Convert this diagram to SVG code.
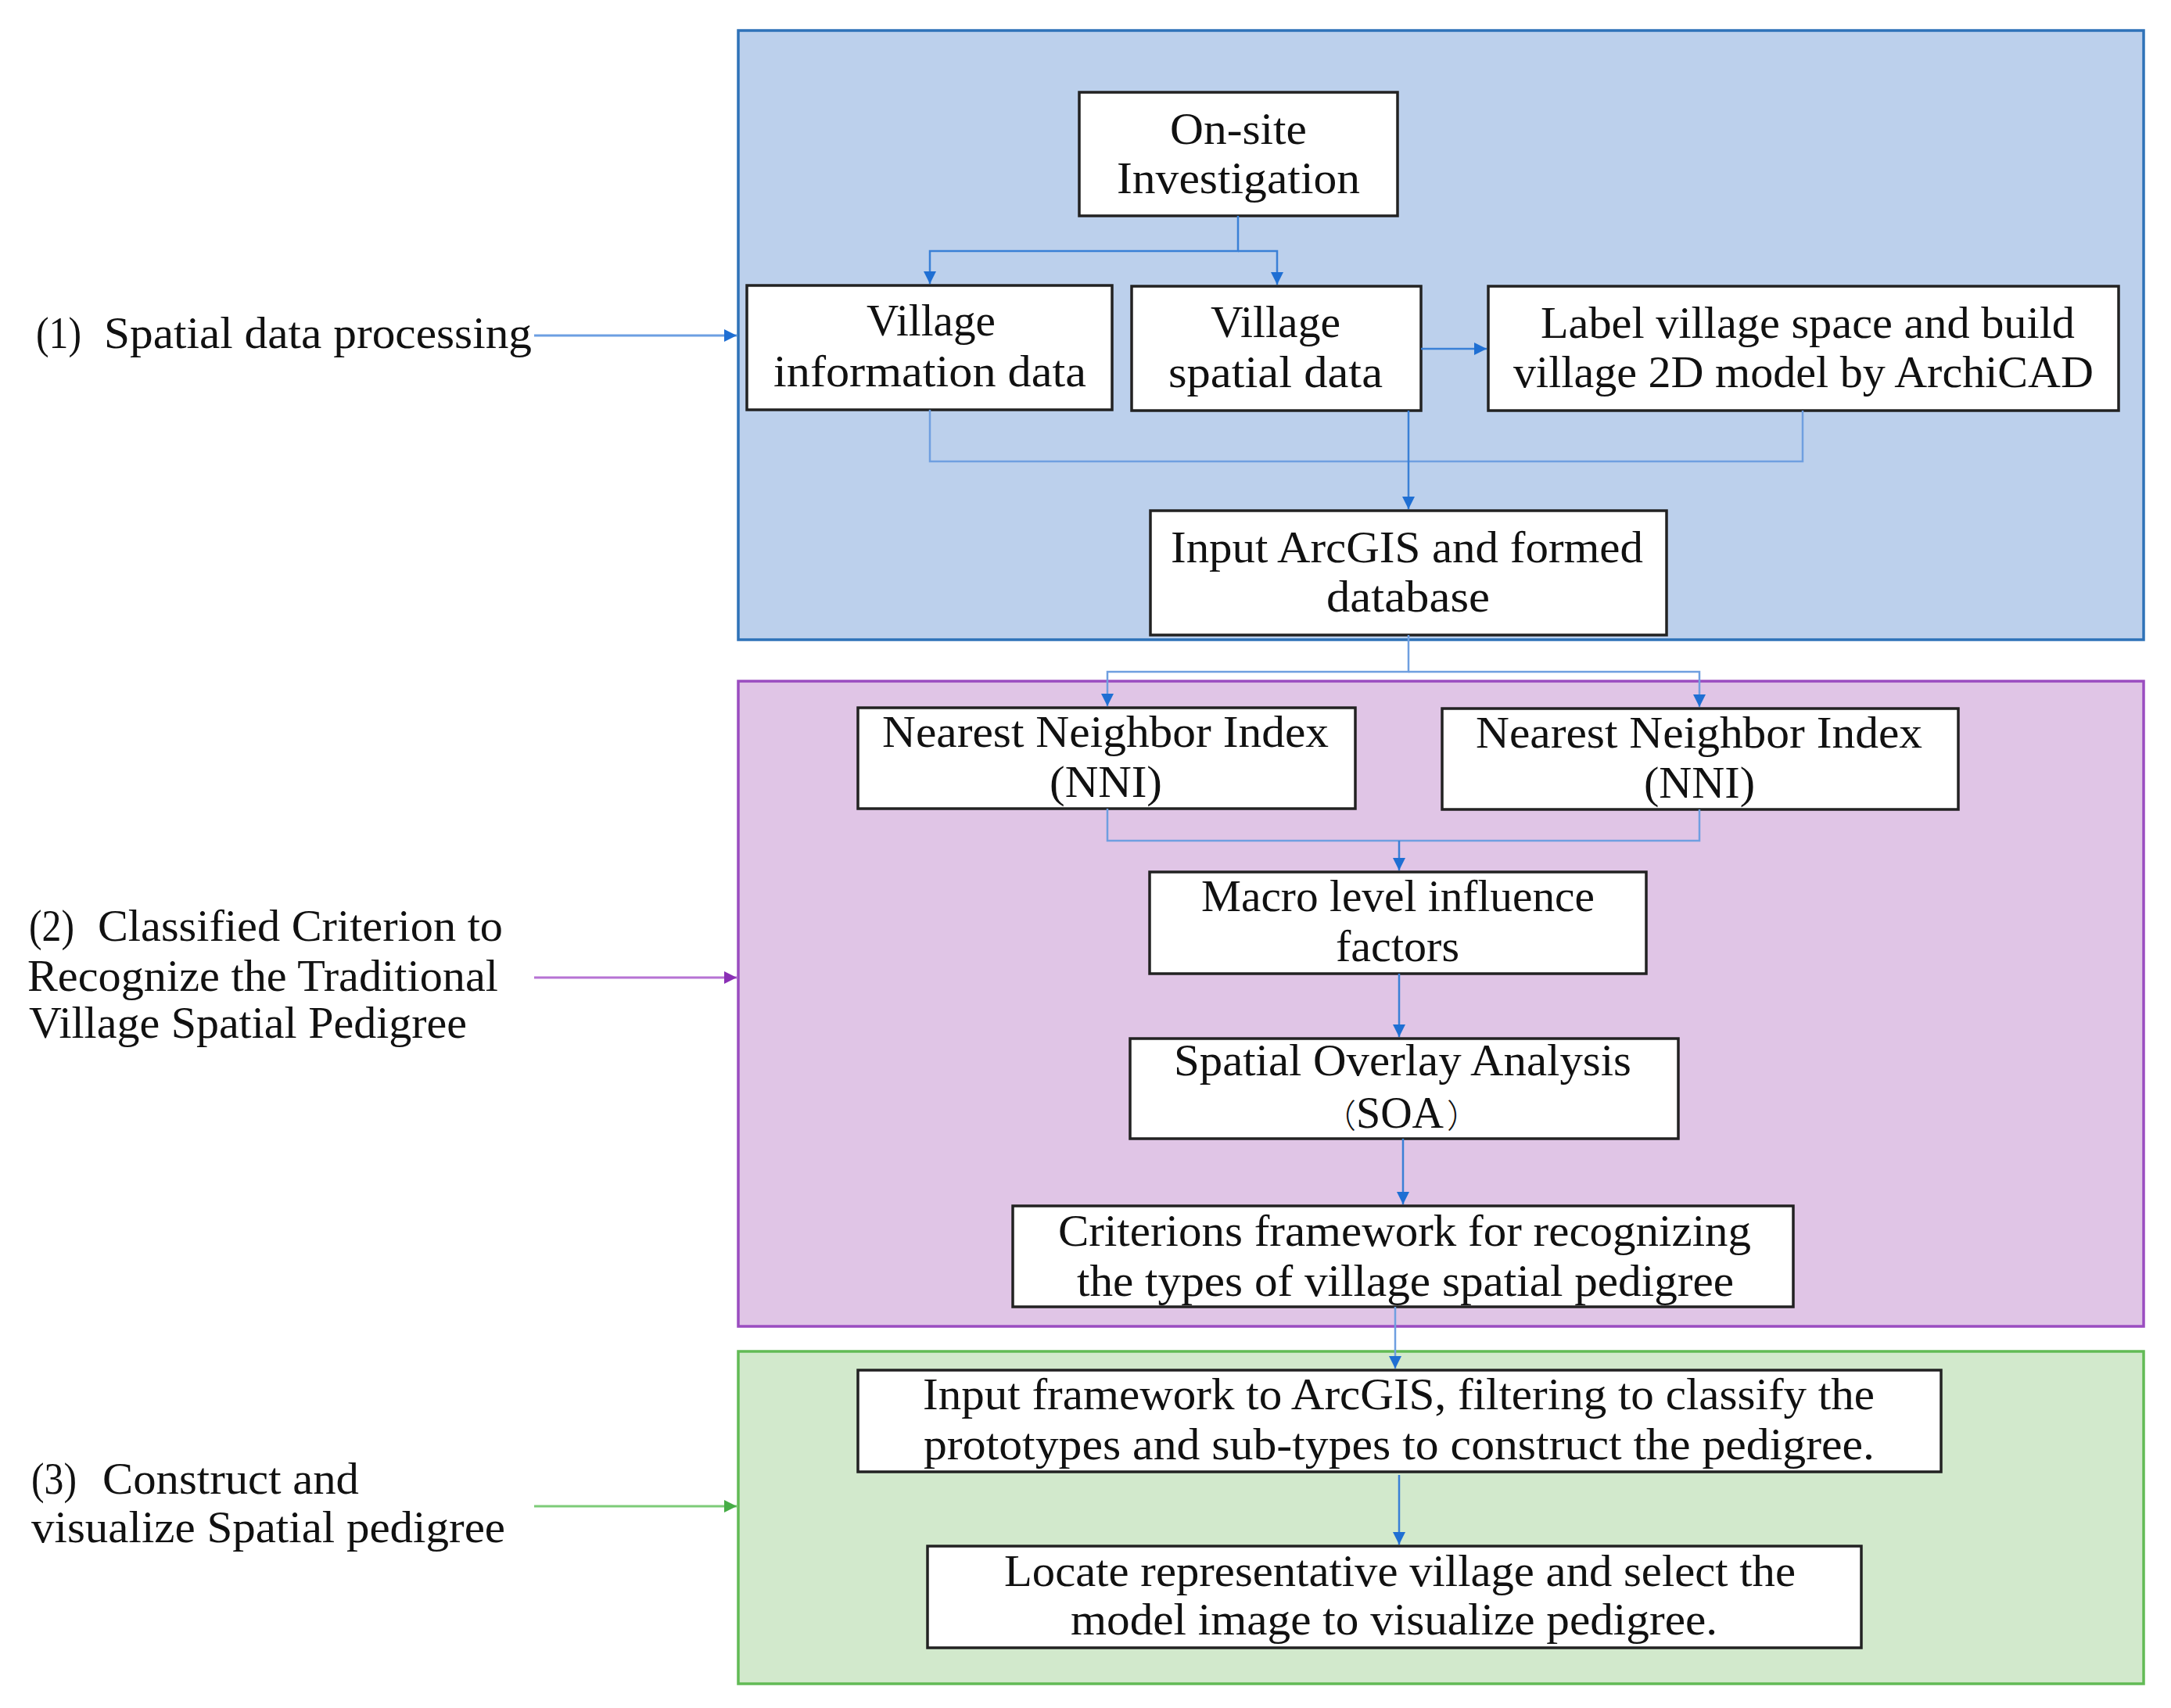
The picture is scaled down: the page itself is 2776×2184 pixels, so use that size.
<svg xmlns="http://www.w3.org/2000/svg" width="2776" height="2184" viewBox="0 0 2776 2184">
<defs>
<style>
.t{font-family:"Liberation Serif","Noto Sans CJK SC",serif;font-size:56px;fill:#111}
.cjk{font-family:"Noto Sans CJK SC","Noto Sans CJK JP",sans-serif;font-size:42px;font-weight:300}
.node{fill:#fff;stroke:#222;stroke-width:3.5}
.c{fill:none;stroke:#3a80d6;stroke-width:2.5}
.cl{fill:none;stroke:#6f9fe0;stroke-width:2.5}
</style>
<marker id="ab" markerUnits="userSpaceOnUse" markerWidth="18" markerHeight="16" refX="16" refY="8" orient="auto"><path d="M0,0 L16,8 L0,16 z" fill="#1f6fd3"/></marker>
<marker id="ap" markerUnits="userSpaceOnUse" markerWidth="18" markerHeight="16" refX="16" refY="8" orient="auto"><path d="M0,0 L16,8 L0,16 z" fill="#8a2fb5"/></marker>
<marker id="ag" markerUnits="userSpaceOnUse" markerWidth="18" markerHeight="16" refX="16" refY="8" orient="auto"><path d="M0,0 L16,8 L0,16 z" fill="#46ad46"/></marker>
</defs>
<rect width="2776" height="2184" fill="#fff"/>

<g id="panel1"><rect x="944" y="39" width="1797" height="779" fill="#bcd0ec" stroke="#2e72b8" stroke-width="3.5"/></g>
<g id="panel2"><rect x="944" y="871" width="1797" height="825" fill="#e0c5e6" stroke="#9a4cc0" stroke-width="3.5"/></g>
<g id="panel3"><rect x="944" y="1728" width="1797" height="425" fill="#d2e9cc" stroke="#62bb55" stroke-width="3.5"/></g>

<g id="label1">
<text class="t" x="46" y="445" textLength="58" lengthAdjust="spacingAndGlyphs">(1)</text>
<text class="t" x="133" y="445" textLength="547" lengthAdjust="spacingAndGlyphs">Spatial data processing</text>
</g>
<g id="label2">
<text class="t" x="37" y="1203" textLength="58" lengthAdjust="spacingAndGlyphs">(2)</text>
<text class="t" x="125" y="1203" textLength="518" lengthAdjust="spacingAndGlyphs">Classified Criterion to</text>
<text class="t" x="35" y="1267" textLength="602" lengthAdjust="spacingAndGlyphs">Recognize the Traditional</text>
<text class="t" x="37" y="1327" textLength="560" lengthAdjust="spacingAndGlyphs">Village Spatial Pedigree</text>
</g>
<g id="label3">
<text class="t" x="40" y="1910" textLength="58" lengthAdjust="spacingAndGlyphs">(3)</text>
<text class="t" x="131" y="1910" textLength="328" lengthAdjust="spacingAndGlyphs">Construct and</text>
<text class="t" x="40" y="1972" textLength="606" lengthAdjust="spacingAndGlyphs">visualize Spatial pedigree</text>
</g>

<g id="onsite"><rect class="node" x="1380" y="118" width="407" height="158"/>
<text class="t" x="1496" y="184" textLength="175" lengthAdjust="spacingAndGlyphs">On-site</text>
<text class="t" x="1428" y="247" textLength="311" lengthAdjust="spacingAndGlyphs">Investigation</text></g>

<g id="villageinfo"><rect class="node" x="955" y="365" width="467" height="159"/>
<text class="t" x="1108" y="429" textLength="165" lengthAdjust="spacingAndGlyphs">Village</text>
<text class="t" x="989" y="494" textLength="400" lengthAdjust="spacingAndGlyphs">information data</text></g>

<g id="villagespatial"><rect class="node" x="1447" y="366" width="370" height="159"/>
<text class="t" x="1548" y="431" textLength="166" lengthAdjust="spacingAndGlyphs">Village</text>
<text class="t" x="1494" y="495" textLength="274" lengthAdjust="spacingAndGlyphs">spatial data</text></g>

<g id="labelbuild"><rect class="node" x="1903" y="366" width="806" height="159"/>
<text class="t" x="1970" y="432" textLength="683" lengthAdjust="spacingAndGlyphs">Label village space and build</text>
<text class="t" x="1935" y="495" textLength="742" lengthAdjust="spacingAndGlyphs">village 2D model by ArchiCAD</text></g>

<g id="inputarcgis"><rect class="node" x="1471" y="653" width="660" height="159"/>
<text class="t" x="1497" y="719" textLength="604" lengthAdjust="spacingAndGlyphs">Input ArcGIS and formed</text>
<text class="t" x="1696" y="782" textLength="209" lengthAdjust="spacingAndGlyphs">database</text></g>

<g id="nni1"><rect class="node" x="1097" y="905" width="636" height="129"/>
<text class="t" x="1128" y="955" textLength="571" lengthAdjust="spacingAndGlyphs">Nearest Neighbor Index</text>
<text class="t" x="1342" y="1019" textLength="144" lengthAdjust="spacingAndGlyphs">(NNI)</text></g>

<g id="nni2"><rect class="node" x="1844" y="906" width="660" height="129"/>
<text class="t" x="1887" y="956" textLength="571" lengthAdjust="spacingAndGlyphs">Nearest Neighbor Index</text>
<text class="t" x="2102" y="1020" textLength="142" lengthAdjust="spacingAndGlyphs">(NNI)</text></g>

<g id="macro"><rect class="node" x="1470" y="1115" width="635" height="130"/>
<text class="t" x="1536" y="1165" textLength="503" lengthAdjust="spacingAndGlyphs">Macro level influence</text>
<text class="t" x="1708" y="1229" textLength="158" lengthAdjust="spacingAndGlyphs">factors</text></g>

<g id="soa"><rect class="node" x="1445" y="1328" width="701" height="128"/>
<text class="t" x="1501" y="1375" textLength="585" lengthAdjust="spacingAndGlyphs">Spatial Overlay Analysis</text>
<text class="t" x="1692" y="1442"><tspan class="cjk">（</tspan><tspan>SOA</tspan><tspan class="cjk" dx="4">）</tspan></text></g>

<g id="criterions"><rect class="node" x="1295" y="1542" width="998" height="129"/>
<text class="t" x="1353" y="1593" textLength="886" lengthAdjust="spacingAndGlyphs">Criterions framework for recognizing</text>
<text class="t" x="1377" y="1657" textLength="840" lengthAdjust="spacingAndGlyphs">the types of village spatial pedigree</text></g>

<g id="inputframework"><rect class="node" x="1097" y="1752" width="1385" height="130"/>
<text class="t" x="1180" y="1802" textLength="1217" lengthAdjust="spacingAndGlyphs">Input framework  to ArcGIS, filtering to classify the</text>
<text class="t" x="1181" y="1866" textLength="1216" lengthAdjust="spacingAndGlyphs">prototypes and sub-types to construct the pedigree.</text></g>

<g id="locate"><rect class="node" x="1186" y="1977" width="1194" height="130"/>
<text class="t" x="1284" y="2028" textLength="1012" lengthAdjust="spacingAndGlyphs">Locate representative village and select the</text>
<text class="t" x="1369" y="2090" textLength="827" lengthAdjust="spacingAndGlyphs">model image to visualize pedigree.</text></g>

<g id="connectors">
<path d="M683,429 H942" fill="none" stroke="#6c9fe2" stroke-width="3" marker-end="url(#ab)"/>
<path d="M683,1250 H942" fill="none" stroke="#b673d4" stroke-width="3" marker-end="url(#ap)"/>
<path d="M683,1926 H942" fill="none" stroke="#7dcb78" stroke-width="3" marker-end="url(#ag)"/>
<path class="c" d="M1583,276 V321 H1189 V363" marker-end="url(#ab)"/>
<path class="c" d="M1583,321 H1633 V364" marker-end="url(#ab)"/>
<path class="c" d="M1817,446 H1901" marker-end="url(#ab)"/>
<path class="cl" d="M1189,524 V590 H2305 V525"/>
<path class="c" d="M1801,525 V651" marker-end="url(#ab)"/>
<path class="cl" d="M1801,812 V859 H1416 V903" marker-end="url(#ab)"/>
<path class="cl" d="M1801,859 H2173 V904" marker-end="url(#ab)"/>
<path class="cl" d="M1416,1034 V1075 H2173 V1035"/>
<path class="c" d="M1789,1075 V1113" marker-end="url(#ab)"/>
<path class="c" d="M1789,1245 V1326" marker-end="url(#ab)"/>
<path class="c" d="M1794,1456 V1540" marker-end="url(#ab)"/>
<path class="cl" d="M1784,1671 V1750" marker-end="url(#ab)"/>
<path class="c" d="M1789,1886 V1975" marker-end="url(#ab)"/>
</g>
</svg>
